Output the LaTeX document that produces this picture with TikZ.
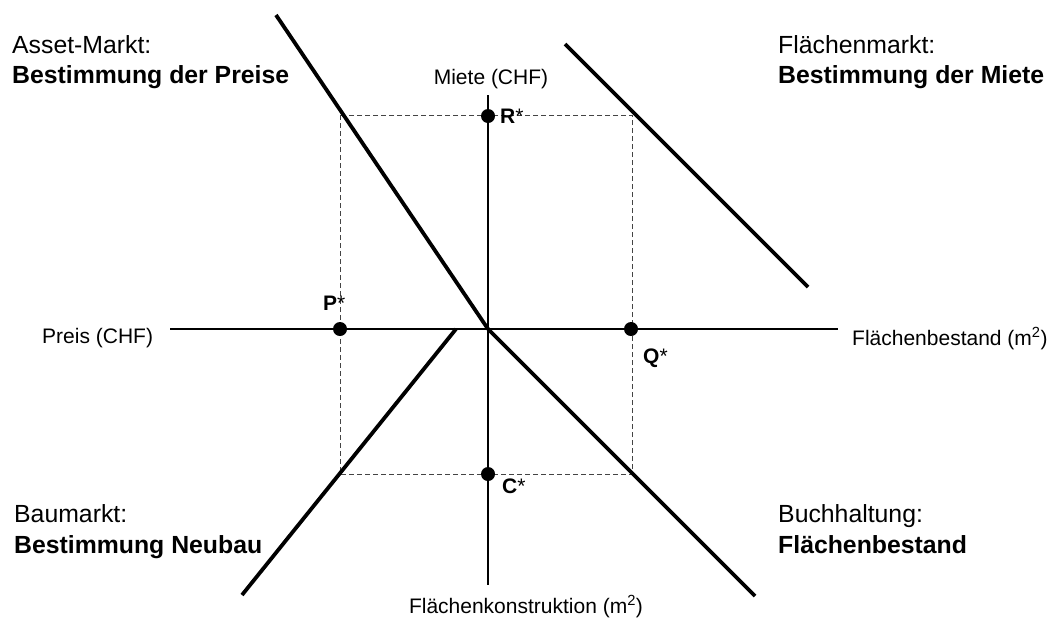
\documentclass[tikz,border=0pt]{standalone}
\usepackage{fontspec}
\setmainfont{Liberation Sans}
\usetikzlibrary{positioning,calc}
\definecolor{mkink}{HTML}{000000}
\definecolor{mkguide}{HTML}{444444}
\newcommand{\eqstar}[1]{\textbf{#1}*}
\tikzset{
  ax/.style={line width=1.9pt, color=mkink},
  crv/.style={line width=3.8pt, color=mkink},
  guide/.style={line width=1pt, color=mkguide, dash pattern=on 5pt off 3pt},
  eq/.style={circle, fill=mkink, inner sep=0pt, minimum size=14pt},
  eqlbl/.style={font=\fontsize{21}{24}\selectfont, inner sep=0pt, anchor=base west},
  axlbl/.style={font=\fontsize{21}{24}\selectfont, inner sep=0pt},
  hd/.style={font=\fontsize{24.8}{29}\selectfont, inner sep=0pt, anchor=base west},
  hdb/.style={hd, font=\fontsize{24.8}{29}\selectfont\bfseries},
}
\begin{document}
\begin{tikzpicture}[x=1pt, y=-1pt]
  \useasboundingbox (0,0) rectangle (1051,619);
  % axes
  \coordinate (O) at (488,329);
  \coordinate (xw) at (170,329);
  \coordinate (xe) at (838,329);
  \coordinate (yn) at (488,95);
  \coordinate (ys) at (488,585);
  \draw[ax] (xw) -- (xe);
  \draw[ax] (yn) -- (ys);
  % equilibrium rectangle
  \coordinate (nw) at (340,115);
  \coordinate (se) at (632,474);
  \draw[guide] (nw) rectangle (se);
  % market curves
  \coordinate (am) at (276,15);
  \coordinate (fm1) at (565,44);
  \coordinate (fm2) at (808,287);
  \coordinate (bh) at (755,596);
  \coordinate (bm1) at (456,329);
  \coordinate (bm2) at (242,595);
  \draw[crv] (am) -- (O);
  \draw[crv] (fm1) -- (fm2);
  \draw[crv] (O) -- (bh);
  \draw[crv] (bm1) -- (bm2);
  % equilibrium points
  \node[eq] (R) at (488,116) {};
  \node[eq] (P) at (340,329) {};
  \node[eq] (Q) at (631,329) {};
  \node[eq] (C) at (488,474) {};
  \node[eqlbl] (Rl) at (500,123) {\eqstar{R}};
  \node[eqlbl] (Pl) at (323,310) {\eqstar{P}};
  \node[eqlbl] (Ql) at (643,363) {\eqstar{Q}};
  \node[eqlbl] (Cl) at (502,493) {\eqstar{C}};
  % axis labels
  \node[axlbl, anchor=base] (miete) at (491,84) {Miete (CHF)};
  \node[axlbl, anchor=base west] (preis) at (42,343) {Preis (CHF)};
  \node[axlbl, anchor=base west] (fbest) at (852,345) {Flächenbestand (m\textsuperscript{2})};
  \node[axlbl, anchor=base] (fkon) at (526,613) {Flächenkonstruktion (m\textsuperscript{2})};
  % quadrant headings
  \node[hd] (amk) at (12,53) {Asset-Markt:};
  \node[hdb] (amk2) at ($(amk.base west)+(0,30)$) {Bestimmung der Preise};
  \node[hd] (fmk) at (778,53) {Flächenmarkt:};
  \node[hdb] (fmk2) at ($(fmk.base west)+(0,30)$) {Bestimmung der Miete};
  \node[hd] (bmk) at (14,522) {Baumarkt:};
  \node[hdb] (bmk2) at ($(bmk.base west)+(0,31)$) {Bestimmung Neubau};
  \node[hd] (bhk) at (778,522) {Buchhaltung:};
  \node[hdb] (bhk2) at ($(bhk.base west)+(0,31)$) {Flächenbestand};
\end{tikzpicture}
\end{document}
